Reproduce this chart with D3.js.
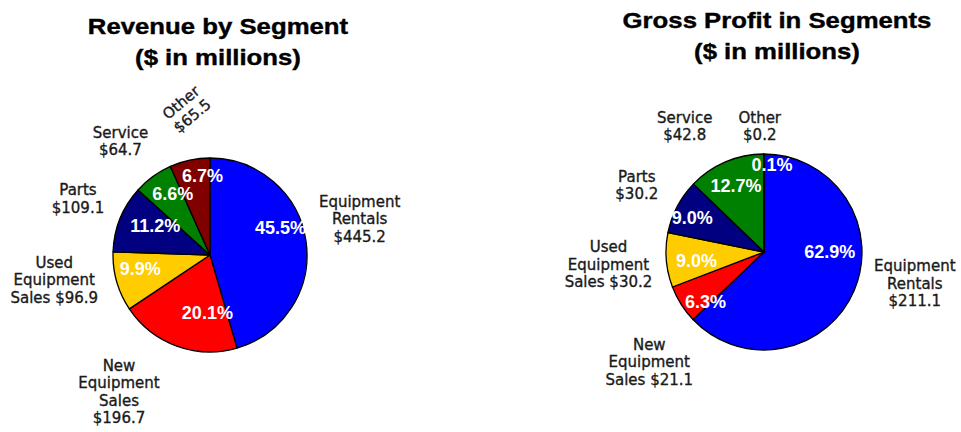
<!DOCTYPE html>
<html>
<head>
<meta charset="utf-8">
<script src="https://cdn.jsdelivr.net/npm/d3@7"></script>
<style>
  body { margin: 0; background: #fff; }
  svg { display: block; }
</style>
</head>
<body>
<script>
// segments, clockwise from 12 o'clock
var segments = [ "Equipment Rentals", "New Equipment Sales", "Used Equipment Sales", "Parts", "Service", "Other" ];
var segmentColors = [ "#0000ff", "#ff0000", "#ffcc00", "#000080", "#008000", "#800000" ];
var nameLines = [ [ "Equipment", "Rentals" ], [ "New", "Equipment", "Sales" ], [ "Used", "Equipment", "Sales" ], [ "Parts" ], [ "Service" ], [ "Other" ] ];

var revenue = [ 445.2, 196.7, 96.9, 109.1, 64.7, 65.5 ];
var revenueShare = [ "45.5%", "20.1%", "9.9%", "11.2%", "6.6%", "6.7%" ];
var revenueValueInline = [ false, false, true, false, false, false ];

var grossProfit = [ 211.1, 21.1, 30.2, 30.2, 42.8, 0.2 ];
var grossProfitShare = [ "62.9%", "6.3%", "9.0%", "9.0%", "12.7%", "0.1%" ];
var grossProfitValueInline = [ false, true, true, false, false, false ];

var width = 961, height = 432;
var fmt = d3.format(".1f");
var lineHeight = 17.5;

var svg = d3.select("body").append("svg")//
.attr("width", width)//
.attr("height", height);

drawPie({
	title : [ "Revenue by Segment", "($ in millions)" ],
	titleX : 218,
	titleY : [ 34, 65 ],
	cx : 210,
	cy : 255,
	r : 97,
	values : revenue,
	shares : revenueShare,
	inline : revenueValueInline,
	// nudges from the computed anchor points
	pctNudge : [ [ 11, -19 ], [ 18, 1 ], [ -12, -3 ], [ 1, -7 ], [ -2, -13 ], [ 5, -21 ] ],
	labelNudge : [ [ 14, -17 ], [ -44, 8 ], [ -24, -13 ], [ -5, -5 ], [ -9, -3 ], [ 5, -12 ] ],
	labelRotate : [ 0, 0, 0, 0, 0, -40 ]
});

drawPie({
	title : [ "Gross Profit in Segments", "($ in millions)" ],
	titleX : 777,
	titleY : [ 28, 59 ],
	cx : 764,
	cy : 252,
	r : 98,
	values : grossProfit,
	shares : grossProfitShare,
	inline : grossProfitValueInline,
	pctNudge : [ [ 10, -24 ], [ -7, 17 ], [ -7, 4 ], [ -18, -6 ], [ -4, -10 ], [ 8, -27 ] ],
	labelNudge : [ [ 24, -23 ], [ 2, 36 ], [ -18, 1 ], [ -5, -3 ], [ -25, 1 ], [ -4, 12 ] ],
	labelRotate : [ 0, 0, 0, 0, 0, 0 ]
});

function drawPie(cfg) {
	var data = segments.map(function(s, i) {
		return {
			name : s,
			index : i,
			value : cfg.values[i]
		};
	});

	// title, glyphs stretched a bit wider like the original
	cfg.title.forEach(function(t, i) {
		svg.append("g")//
		.attr("transform", "translate(" + cfg.titleX + "," + cfg.titleY[i] + ") scale(1.17,1)")//
		.append("text")//
		.attr("text-anchor", "middle")//
		.attr("font-family", "'Liberation Sans', Arial, sans-serif")//
		.attr("font-weight", "bold")//
		.attr("font-size", "22px")//
		.attr("fill", "#000")//
		.attr("stroke", "#000")//
		.attr("stroke-width", 0.4)//
		.text(t);
	});

	var g = svg.append("g").attr("transform", "translate(" + cfg.cx + "," + cfg.cy + ")");

	var arcs = d3.pie().sort(null).value(function(d) {
		return d.value;
	})(data);

	var arc = d3.arc().innerRadius(0).outerRadius(cfg.r);
	var pctArc = d3.arc().innerRadius(cfg.r * 0.62).outerRadius(cfg.r * 0.62);
	var outerArc = d3.arc().innerRadius(cfg.r + 40).outerRadius(cfg.r + 40);

	g.selectAll(".slice").data(arcs).enter().append("path")//
	.attr("class", "slice")//
	.attr("d", arc)//
	.attr("fill", function(d) {
		return segmentColors[d.data.index];
	})//
	.attr("stroke", "#000")//
	.attr("stroke-width", 1.3)//
	.attr("stroke-linejoin", "round");

	// percentage labels
	g.selectAll(".pct").data(arcs).enter().append("text")//
	.attr("class", "pct")//
	.attr("x", function(d) {
		return pctArc.centroid(d)[0] + cfg.pctNudge[d.data.index][0];
	})//
	.attr("y", function(d) {
		return pctArc.centroid(d)[1] + cfg.pctNudge[d.data.index][1];
	})//
	.attr("dy", "0.35em")//
	.attr("text-anchor", "middle")//
	.attr("font-family", "'Liberation Sans', Arial, sans-serif")//
	.attr("font-weight", "bold")//
	.attr("font-size", "18px")//
	.attr("fill", "#fff")//
	.text(function(d) {
		return cfg.shares[d.data.index];
	});

	// category labels outside
	var labels = g.selectAll(".seg-label").data(arcs).enter().append("g")//
	.attr("class", "seg-label")//
	.attr("transform", function(d) {
		var c = outerArc.centroid(d);
		var n = cfg.labelNudge[d.data.index];
		return "translate(" + (c[0] + n[0]) + "," + (c[1] + n[1]) + ") rotate(" + cfg.labelRotate[d.data.index] + ")";
	});

	labels.each(function(d) {
		var i = d.data.index;
		var lines = nameLines[i].slice();
		var v = "$" + fmt(d.data.value);
		if (cfg.inline[i]) {
			lines[lines.length - 1] = lines[lines.length - 1] + " " + v;
		} else {
			lines.push(v);
		}
		var t = d3.select(this).append("text")//
		.attr("text-anchor", "middle")//
		.attr("font-family", "'DejaVu Sans', Verdana, sans-serif")//
		.attr("font-size", "15px")//
		.attr("fill", "#1a1a1a")//
		.attr("stroke", "#1a1a1a")//
		.attr("stroke-width", 0.35);
		lines.forEach(function(line, k) {
			t.append("tspan")//
			.attr("x", 0)//
			.attr("y", (k - (lines.length - 1) / 2) * lineHeight + 5.5)//
			.text(line);
		});
	});
}
</script>
</body>
</html>
